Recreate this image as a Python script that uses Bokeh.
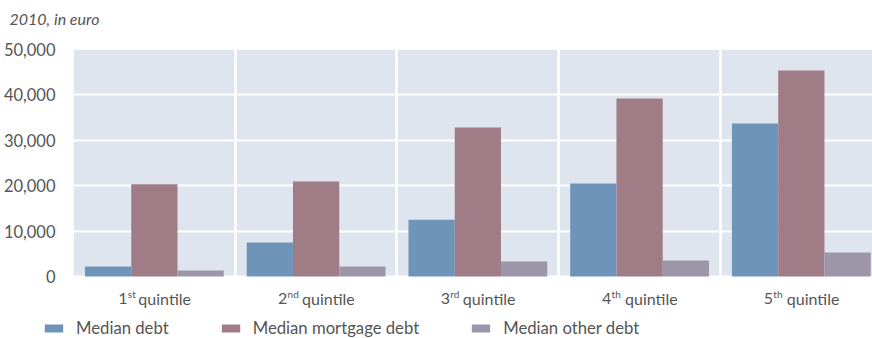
from bokeh.plotting import figure
from bokeh.core.properties import value
from bokeh.models import (Range1d, FixedTicker, Label, LabelSet, Legend, LegendItem,
                          NumeralTickFormatter, ColumnDataSource, BoxAnnotation)
from bokeh.embed import file_html
from bokeh.resources import INLINE

# Median household debt by income quintile, 2010, in euro
quintile_numbers = ["1", "2", "3", "4", "5"]
quintile_suffixes = ["st", "nd", "rd", "th", "th"]
median_debt = [2200, 7500, 12500, 20500, 33700]
median_mortgage_debt = [20300, 20900, 32800, 39200, 45400]
median_other_debt = [1300, 2200, 3300, 3500, 5300]
series_names = ["Median debt", "Median mortgage debt", "Median other debt"]
y_ticks = [0, 10000, 20000, 30000, 40000, 50000]

colors = ["#6E95B9", "#A07D86", "#9D96A8"]
PANEL_BG = "#DFE5EE"
FONT = "Lato"
TEXT_COLOR = "#555555"

# main chart: the frame runs down to the category labels, the shaded
# plotting area covers only the 0..50,000 value band
CHART_H = 312
TOP = 49
PLOT_H = 227                       # pixels for 0..50,000
y_max = y_ticks[-1]
y_min = -(CHART_H - TOP - PLOT_H) / PLOT_H * y_max

p = figure(width=872, height=CHART_H, output_backend="svg", toolbar_location=None,
           x_range=Range1d(0, 4.94), y_range=Range1d(y_min, y_max),
           min_border_left=72, min_border_right=0, min_border_top=TOP,
           min_border_bottom=0)
p.background_fill_color = "white"
p.border_fill_color = "white"
p.outline_line_color = None
p.add_layout(BoxAnnotation(bottom=0, top=y_max, fill_color=PANEL_BG, fill_alpha=1,
                           line_color=None, level="image"))

# grid: white lines at value ticks and between quintile groups
p.ygrid.ticker = FixedTicker(ticks=y_ticks)
p.ygrid.grid_line_color = "white"
p.ygrid.grid_line_width = 2
p.xgrid.ticker = FixedTicker(ticks=[i for i in range(1, len(quintile_numbers))])
p.xgrid.grid_line_color = "white"
p.xgrid.grid_line_width = 2.5

p.xaxis.visible = False
p.yaxis.ticker = FixedTicker(ticks=y_ticks)
p.yaxis.formatter = NumeralTickFormatter(format="0,0")
p.yaxis.axis_line_color = None
p.yaxis.major_tick_line_color = None
p.yaxis.minor_tick_line_color = None
p.yaxis.major_label_standoff = 12
p.yaxis.major_label_text_font = FONT
p.yaxis.major_label_text_font_size = "16.5px"
p.yaxis.major_label_text_color = TEXT_COLOR

# grouped bars
centers = [i + 0.5 for i in range(len(quintile_numbers))]
bar_w = 0.286
series = [median_debt, median_mortgage_debt, median_other_debt]
for k, (vals, col) in enumerate(zip(series, colors)):
    src = ColumnDataSource(dict(x=[c + (k - 1) * bar_w for c in centers], top=vals))
    p.vbar(x="x", top="top", bottom=0, width=bar_w, source=src,
           fill_color=col, line_color=None)

# category labels: number, superscript suffix, "quintile"
sup_widths = {"st": 7, "nd": 11, "rd": 9, "th": 10}
num_w = 9
word_w = 52
lab = dict(x=[], y=[], text=[], dx=[], size=[])
for c, num, suf in zip(centers, quintile_numbers, quintile_suffixes):
    left = -(num_w + sup_widths[suf] + 4 + word_w) / 2
    for txt, dx, dy, fs in [(num, left, 14, "16px"),
                            (suf, left + num_w + 0.5, 19, "10px"),
                            ("quintile", left + num_w + sup_widths[suf] + 4, 14, "16px")]:
        lab["x"].append(c)
        lab["y"].append(dy)
        lab["text"].append(txt)
        lab["dx"].append(dx)
        lab["size"].append(fs)
p.add_layout(LabelSet(x="x", y="y", text="text", x_offset="dx",
                      x_units="data", y_units="screen",
                      source=ColumnDataSource(lab), text_align="left",
                      text_baseline="middle", text_font=value(FONT),
                      text_font_size="size", text_color=TEXT_COLOR))

# subtitle above the frame
p.add_layout(Label(x=-64, y=31, x_units="screen", y_units="screen",
                   text="2010, in euro", text_font=FONT, text_font_style="italic",
                   text_font_size="16px", text_color=TEXT_COLOR,
                   text_baseline="middle"), "above")

# legend strip below the chart (its own plot, so the keys can start left of
# the chart's value axis edge)
LEG_H = 338 - CHART_H
lg = figure(width=872, height=LEG_H, output_backend="svg", toolbar_location=None,
            x_range=Range1d(0, 872), y_range=Range1d(0, LEG_H),
            min_border=0, x_axis_type=None, y_axis_type=None)
lg.outline_line_color = None
lg.grid.visible = False
nan = float("nan")
swatches = [lg.vbar(x=[nan], top=[nan], width=1, fill_color=col, line_color=None)
            for col in colors]
legend = Legend(items=[LegendItem(label=n, renderers=[r])
                       for n, r in zip(series_names, swatches)],
                orientation="horizontal", location=(42, 0),
                glyph_width=23, glyph_height=10, label_standoff=11, spacing=50,
                padding=0, margin=0, border_line_color=None,
                background_fill_alpha=0, label_text_font=FONT,
                label_text_font_size="16.7px", label_text_color=TEXT_COLOR,
                label_height=16)
lg.add_layout(legend, "center")

open("out.html", "w").write(file_html([p, lg], INLINE))
